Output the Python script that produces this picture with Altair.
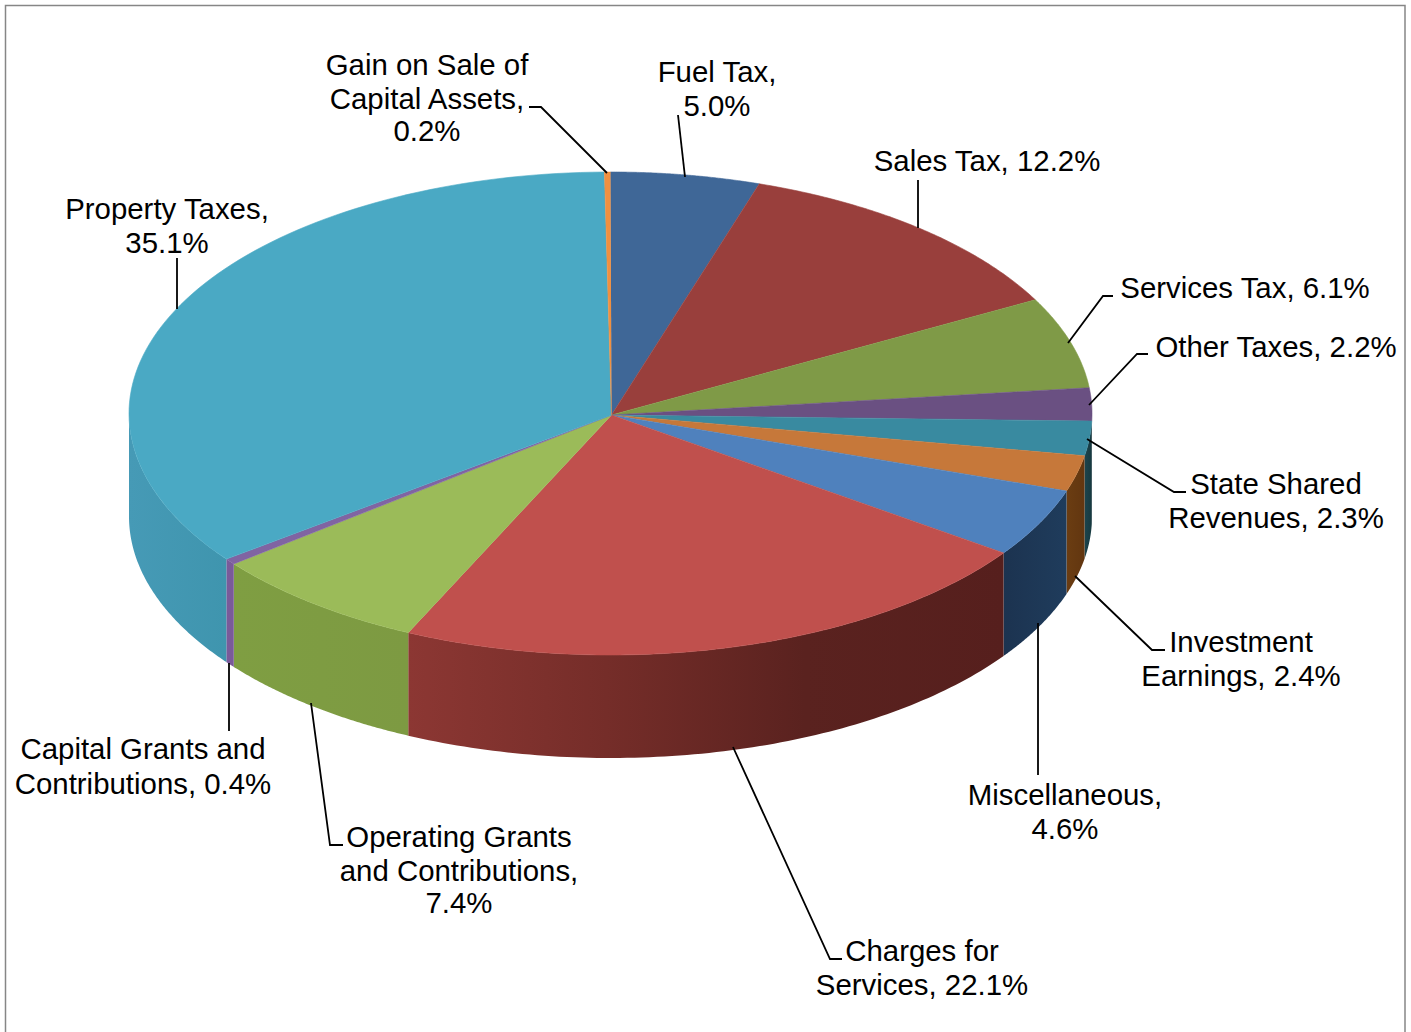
import altair as alt
import numpy as np
import pandas as pd

# Revenue shares, clockwise from twelve o'clock
names = ["Fuel Tax", "Sales Tax", "Services Tax", "Other Taxes", "State Shared Revenues",
         "Investment Earnings", "Miscellaneous", "Charges for Services",
         "Operating Grants and Contributions", "Capital Grants and Contributions",
         "Property Taxes", "Gain on Sale of Capital Assets"]
shares = [5.0, 12.2, 6.1, 2.2, 2.3, 2.4, 4.6, 22.1, 7.4, 0.4, 35.1, 0.2]

top_colors = ["#3f6797", "#993f3c", "#7f9a47", "#6a5082", "#398aa0", "#c6783a",
              "#4f81bd", "#c0504d", "#9bbb59", "#8064a2", "#4aa9c4", "#f09040"]
# Rim shading, left to right, for the slices on the near side
wall_colors = {
    "Other Taxes": ["#3d2c4c", "#3d2c4c"],
    "State Shared Revenues": ["#1c444d", "#17393f"],
    "Investment Earnings": ["#6b3d12", "#623610"],
    "Miscellaneous": ["#1c3350", "#1f3c5c"],
    "Charges for Services": ["#8c3733", "#752d29", "#5a221f", "#561f1d"],
    "Operating Grants and Contributions": ["#7f9e42", "#7d9a42"],
    "Capital Grants and Contributions": ["#7a5a9a", "#7a5a9a"],
    "Property Taxes": ["#469ab6", "#3f95ae"],
}

# Ellipse of the pie face, in page pixels, the point the slices meet at, and the rim depth
CX, CY, RX, RY, DEPTH = 610.5, 413.5, 481.5, 241.5, 103.0
APEX_X, APEX_Y = 611.5, 415.0

# Leader lines and label lines, in page pixels
leaders = [
    [(529, 107), (541, 107), (607, 173)],
    [(678, 115), (685, 177)],
    [(918, 180), (918, 228)],
    [(1113, 296), (1103, 296), (1068, 343)],
    [(1148, 354), (1137, 354), (1089, 405)],
    [(1087, 439), (1174, 492), (1186, 492)],
    [(1075, 576), (1152, 650), (1165, 650)],
    [(1038, 623), (1038, 775)],
    [(733, 747), (830, 959), (842, 959)],
    [(311, 703), (330, 845), (343, 845)],
    [(229, 663), (229, 731)],
    [(177, 258), (177, 309)],
]
label_rows = [
    ("Gain on Sale of", 427, 66), ("Capital Assets,", 427, 100), ("0.2%", 427, 132),
    ("Fuel Tax,", 717, 73), ("5.0%", 717, 107),
    ("Sales Tax, 12.2%", 987, 162),
    ("Services Tax, 6.1%", 1245, 289),
    ("Other Taxes, 2.2%", 1276, 348),
    ("State Shared", 1276, 485), ("Revenues, 2.3%", 1276, 519),
    ("Investment", 1241, 643), ("Earnings, 2.4%", 1241, 677),
    ("Miscellaneous,", 1065, 796), ("4.6%", 1065, 830),
    ("Charges for", 922, 952), ("Services, 22.1%", 922, 986),
    ("Operating Grants", 459, 838), ("and Contributions,", 459, 872), ("7.4%", 459, 904),
    ("Capital Grants and", 143, 750), ("Contributions, 0.4%", 143, 785),
    ("Property Taxes,", 167, 210), ("35.1%", 167, 244),
]

ends = np.cumsum(shares)
starts = ends - np.array(shares)

face_rows, wall_rows = [], []
for name, s0, s1 in zip(names, starts, ends):
    a0, a1 = s0 * 3.6, s1 * 3.6
    angles = np.radians(np.linspace(a0, a1, 90))
    face_rows.append({"slice": name, "x": APEX_X, "y": APEX_Y, "k": 0})
    for k, a in enumerate(angles, start=1):
        face_rows.append({"slice": name, "x": CX + RX * np.sin(a), "y": CY - RY * np.cos(a), "k": k})
    lo, hi = max(a0, 90.0), min(a1, 270.0)
    if lo < hi:
        for a in np.radians(np.linspace(lo, hi, 90)):
            yy = CY - RY * np.cos(a)
            wall_rows.append({"slice": name, "x": CX + RX * np.sin(a), "y": yy, "y2": yy + DEPTH})
faces = pd.DataFrame(face_rows)
walls = pd.DataFrame(wall_rows)

x_enc = alt.X("x:Q", scale=alt.Scale(domain=[0, 1411], nice=False, zero=False), axis=None)
y_enc = alt.Y("y:Q", scale=alt.Scale(domain=[1032, 0], nice=False, zero=False), axis=None)

layers = []

# Page border: top, left and right edges
frame = pd.DataFrame({"x": [5.5, 5.5, 1405, 1405], "y": [1032, 5.5, 5.5, 1032], "k": [0, 1, 2, 3]})
layers.append(alt.Chart(frame).mark_line(color="#868686", strokeWidth=1.5).encode(x=x_enc, y=y_enc, order="k:Q"))

# Rim of the pie
for name, stops in wall_colors.items():
    gradient = alt.LinearGradient(
        gradient="linear", x1=0, y1=0, x2=1, y2=0,
        stops=[alt.GradientStop(offset=i / (len(stops) - 1), color=c) for i, c in enumerate(stops)],
    )
    part = walls[walls["slice"] == name]
    layers.append(
        alt.Chart(part).mark_area(color=gradient, interpolate="linear").encode(
            x=x_enc, y=y_enc, y2="y2:Q"
        )
    )

# Pie face
fill_scale = alt.Scale(domain=names, range=top_colors)
layers.append(
    alt.Chart(faces).mark_line(strokeWidth=0.6, interpolate="linear").encode(
        x=x_enc, y=y_enc, order="k:Q",
        fill=alt.Fill("slice:N", scale=fill_scale, legend=None),
        stroke=alt.Stroke("slice:N", scale=fill_scale, legend=None),
    )
)

# Leader lines
leader_df = pd.DataFrame(
    [{"id": i, "k": k, "x": p[0], "y": p[1]} for i, line in enumerate(leaders) for k, p in enumerate(line)]
)
layers.append(
    alt.Chart(leader_df).mark_line(color="#000000", strokeWidth=1.8).encode(
        x=x_enc, y=y_enc, detail="id:N", order="k:Q"
    )
)

# Labels
label_df = pd.DataFrame(label_rows, columns=["text", "x", "y"])
layers.append(
    alt.Chart(label_df).mark_text(
        font="Liberation Sans", fontSize=29.4, color="#000000", align="center", baseline="middle"
    ).encode(x=x_enc, y=y_enc, text="text:N")
)

chart = alt.layer(*layers).properties(
    width=1411, height=1032, padding=0, autosize=alt.AutoSizeParams(type="none"), background="#ffffff"
).configure_view(stroke=None)

chart.save("out.html", embed_options={"renderer": "svg", "actions": False})
